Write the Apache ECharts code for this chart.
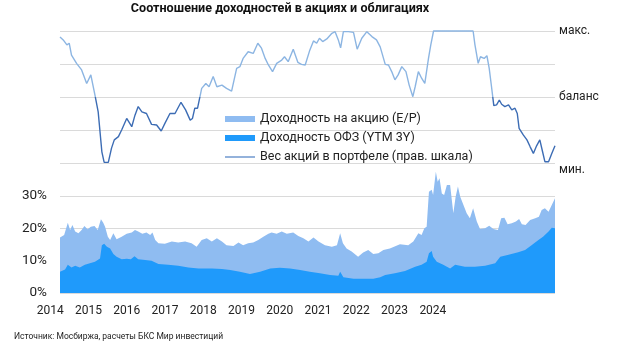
<!DOCTYPE html>
<html><head><meta charset="utf-8">
<script src="https://cdn.jsdelivr.net/npm/echarts@6/dist/echarts.min.js"></script>
<style>html,body{margin:0;padding:0;background:#fff}#c{width:620px;height:355px}</style>
</head><body><div id="c"></div>
<script>
const yearLabels = ['2014','2015','2016','2017','2018','2019','2020','2021','2022','2023','2024'];

// Stock weight in portfolio (right scale: 0 = мин., 2 = баланс, 4 = макс.)
const weightTimes = [2014.00,2014.07,2014.15,2014.20,2014.25,2014.36,2014.47,2014.58,2014.67,2014.76,2014.83,2014.91,2014.96,2015.05,2015.12,2015.18,2015.27,2015.34,2015.38,2015.45,2015.56,2015.63,2015.70,2015.78,2015.88,2015.99,2016.10,2016.20,2016.28,2016.39,2016.50,2016.63,2016.73,2016.83,2016.88,2016.93,2016.99,2017.08,2017.17,2017.24,2017.33,2017.41,2017.52,2017.62,2017.73,2017.84,2017.91,2017.98,2018.09,2018.20,2018.30,2018.38,2018.46,2018.53,2018.62,2018.71,2018.82,2018.88,2018.96,2019.07,2019.17,2019.25,2019.33,2019.43,2019.51,2019.58,2019.64,2019.71,2019.80,2019.91,2019.98,2020.05,2020.10,2020.16,2020.27,2020.38,2020.46,2020.56,2020.67,2020.78,2020.88,2020.96,2021.07,2021.14,2021.21,2021.28,2021.35,2021.43,2021.52,2021.59,2021.67,2021.72,2021.79,2021.86,2021.93,2022.01,2022.06,2022.12,2022.50,2022.98,2023.02,2023.09,2023.14,2023.22,2023.28,2023.33,2023.38,2023.43,2023.49,2023.55,2023.60,2023.67,2023.75,2023.82,2023.89,2023.94,2023.98,2024.07,2024.15,2024.22,2024.29,2024.36,2024.43,2024.49,2024.54,2024.62,2024.69,2024.76];
const weightValues = [3.82,3.73,3.58,3.63,3.27,3.02,2.82,2.41,2.67,2.06,1.55,0.34,0.02,0.02,0.45,0.70,0.80,1.00,0.97,1.35,1.10,1.45,1.71,1.55,1.50,1.17,1.15,0.97,1.20,1.50,1.50,1.84,1.61,1.30,1.35,1.66,1.66,2.26,2.41,2.31,2.62,2.31,2.36,2.26,2.18,2.87,2.92,3.17,3.37,3.32,3.63,3.48,3.17,2.97,2.77,3.02,3.12,3.22,3.07,3.45,3.05,2.99,2.97,3.42,3.70,3.63,3.78,3.68,3.76,3.93,3.98,3.73,3.49,3.98,3.98,3.96,3.45,3.78,3.98,3.83,3.73,3.52,2.99,2.97,2.77,2.52,2.67,2.92,2.77,2.36,2.01,2.31,2.77,2.57,2.41,3.17,3.58,4.00,4.00,4.00,3.58,3.02,3.22,3.17,3.25,2.87,2.31,1.74,1.76,1.91,1.78,1.71,1.76,1.61,1.66,1.50,1.05,0.85,0.70,0.49,0.29,0.52,0.70,0.34,0.04,0.04,0.29,0.52];

// Earnings yield (E/P), %
const epTimes = [2014.00,2014.09,2014.17,2014.22,2014.27,2014.33,2014.40,2014.47,2014.53,2014.60,2014.67,2014.75,2014.82,2014.89,2014.94,2014.98,2015.04,2015.09,2015.16,2015.23,2015.34,2015.45,2015.56,2015.63,2015.70,2015.79,2015.88,2015.96,2016.01,2016.07,2016.14,2016.28,2016.43,2016.57,2016.72,2016.86,2016.97,2017.08,2017.19,2017.30,2017.41,2017.52,2017.62,2017.77,2017.88,2017.98,2018.09,2018.20,2018.31,2018.42,2018.53,2018.60,2018.71,2018.82,2018.93,2019.07,2019.18,2019.29,2019.40,2019.51,2019.62,2019.76,2019.91,2020.02,2020.09,2020.15,2020.23,2020.34,2020.48,2020.59,2020.70,2020.81,2020.92,2021.03,2021.17,2021.39,2021.57,2021.68,2021.79,2021.86,2021.92,2021.97,2022.02,2022.08,2022.11,2022.17,2022.21,2022.25,2022.30,2022.35,2022.41,2022.44,2022.48,2022.55,2022.60,2022.65,2022.70,2022.77,2022.84,2022.91,2022.98,2023.06,2023.13,2023.24,2023.33,2023.42,2023.52,2023.59,2023.66,2023.73,2023.82,2023.91,2023.98,2024.04,2024.12,2024.22,2024.33,2024.41,2024.47,2024.54,2024.62,2024.69,2024.76];
const epValues = [17.2,17.9,21.7,19.5,21.0,19.0,18.5,19.5,20.7,19.7,20.5,20.7,19.5,22.8,21.7,20.5,17.4,16.4,18.5,16.6,17.4,18.3,18.7,19.5,19.0,18.3,18.7,17.9,18.7,16.4,15.4,15.2,15.9,15.6,15.9,15.4,14.3,16.4,16.9,15.9,16.9,15.9,14.8,14.5,15.6,14.8,15.4,15.6,16.4,17.4,18.3,18.7,18.3,19.0,18.3,18.7,17.6,16.9,15.9,17.2,15.9,14.8,14.3,14.8,18.5,15.4,13.8,12.8,11.2,12.5,13.3,12.1,12.3,13.3,13.8,15.1,14.8,15.9,18.5,17.9,20.0,20.5,31.3,31.9,30.3,37.5,34.4,35.5,30.8,30.3,33.4,33.2,33.4,24.7,29.8,32.9,29.8,27.2,24.7,23.1,26.2,22.1,19.8,20.0,20.8,19.8,19.5,23.1,23.3,21.3,21.6,22.1,22.9,21.3,21.0,22.6,23.1,23.6,25.7,26.2,25.1,27.2,29.3];

// OFZ yield (YTM 3Y), %
const ofzTimes = [2014.00,2014.11,2014.17,2014.25,2014.33,2014.43,2014.54,2014.65,2014.76,2014.87,2014.91,2014.96,2015.02,2015.09,2015.16,2015.23,2015.34,2015.45,2015.54,2015.62,2015.70,2015.85,2015.99,2016.14,2016.35,2016.57,2016.79,2017.01,2017.30,2017.52,2017.70,2017.91,2018.13,2018.35,2018.57,2018.78,2019.00,2019.22,2019.43,2019.65,2019.87,2020.05,2020.09,2020.16,2020.38,2020.59,2020.81,2020.96,2021.07,2021.28,2021.50,2021.72,2021.86,2021.97,2022.02,2022.08,2022.11,2022.19,2022.33,2022.48,2022.59,2022.62,2022.80,2023.02,2023.24,2023.46,2023.57,2023.75,2023.96,2024.11,2024.25,2024.40,2024.50,2024.62,2024.69,2024.76];
const ofzValues = [6.6,7.3,8.7,7.9,8.4,7.9,8.7,9.2,9.7,10.7,14.8,15.2,14.3,13.8,12.1,11.2,10.4,10.6,10.4,11.4,10.4,10.2,10.0,9.0,8.7,8.4,7.9,7.6,7.6,7.4,7.1,6.6,5.9,6.6,7.6,7.8,7.6,7.1,6.6,6.1,5.6,5.3,6.6,4.9,4.4,4.4,4.4,4.9,5.6,6.1,6.8,8.1,8.7,9.7,12.3,13.0,11.2,9.7,8.7,7.6,8.7,8.1,8.1,8.1,8.4,9.2,11.2,11.8,12.6,13.3,14.8,16.4,17.4,19.0,20.2,20.0];

const weightLevelLabels = {0: 'мин.', 2: 'баланс', 4: 'макс.'};
const seriesNames = ['Доходность на акцию (E/P)', 'Доходность ОФЗ (YTM 3Y)', 'Вес акций в портфеле (прав. шкала)'];

const zip = (xs, ys) => xs.map((x, i) => [x, ys[i]]);
const FONT = 'Roboto, "Noto Sans", sans-serif';
const C_EP = '#8fbcf1', C_OFZ = '#1f9afb', C_DARK = '#3c6cb4', C_LIGHT = '#8cb5e2', C_LEG = '#5a88c8';
const X0 = 2014, X1 = 2024.76;

const chart = echarts.init(document.getElementById('c'), null, {renderer: 'canvas'});
chart.setOption({
  animation: false,
  title: [
    {text: 'Соотношение доходностей в акциях и облигациях', left: 280, textAlign: 'center', top: 2, padding: 0,
     textStyle: {fontFamily: FONT, fontWeight: 'bold', fontSize: 12.6, color: '#111'}},
    {text: 'Источник: Мосбиржа, расчеты БКС Мир инвестиций', left: 14, top: 332, padding: 0,
     textStyle: {fontFamily: FONT, fontWeight: 'normal', fontSize: 8.5, color: '#222'}}
  ],
  legend: {
    orient: 'vertical', left: 225, top: 112, padding: 0, itemWidth: 30, itemHeight: 6, itemGap: 5,
    textStyle: {fontFamily: FONT, fontSize: 12.5, color: '#222', lineHeight: 14},
    data: [
      {name: seriesNames[0], icon: 'rect'},
      {name: seriesNames[1], icon: 'rect'},
      {name: seriesNames[2], icon: 'path://M0,0H30V1.3H0Z', itemStyle: {color: C_LEG}}
    ],
    selectedMode: false
  },
  visualMap: {
    show: false, type: 'piecewise', seriesIndex: 2, dimension: 1,
    pieces: [{gte: -1, lt: 2, color: C_DARK}, {gte: 2, lte: 5, color: C_LIGHT}]
  },
  grid: [
    {left: 60, right: 65, top: 31, height: 132},
    {left: 60, right: 65, top: 196, height: 97},
    {left: 31, width: 421, top: 298, height: 1}
  ],
  xAxis: [
    {gridIndex: 0, type: 'value', min: X0, max: X1, show: false},
    {gridIndex: 1, type: 'value', min: X0, max: X1, show: false},
    {gridIndex: 2, type: 'category', data: yearLabels, boundaryGap: true,
     axisLine: {show: false}, axisTick: {show: false},
     axisLabel: {margin: 6, fontFamily: FONT, fontSize: 12, color: '#222'}}
  ],
  yAxis: [
    {gridIndex: 0, type: 'value', min: 0, max: 4, interval: 1, position: 'right',
     axisLine: {show: false}, axisTick: {show: false},
     splitLine: {lineStyle: {color: '#dadada', width: 1}},
     axisLabel: {margin: 4, fontFamily: FONT, fontSize: 12, color: '#222',
       formatter: v => v === 0 ? '{lo|мин.}' : (weightLevelLabels[v] || ''),
       rich: {lo: {padding: [14, 0, 0, 0], fontFamily: FONT, fontSize: 12, color: '#222'}}}},
    {gridIndex: 1, type: 'value', min: 0, max: 30, interval: 10,
     axisLine: {show: false}, axisTick: {show: false},
     splitLine: {lineStyle: {color: '#dadada', width: 1}},
     axisLabel: {margin: 13, fontFamily: FONT, fontSize: 13.5, color: '#222', formatter: '{value}%'}},
    {gridIndex: 2, type: 'value', show: false}
  ],
  series: [
    {name: seriesNames[0], type: 'line', xAxisIndex: 1, yAxisIndex: 1, data: zip(epTimes, epValues),
     symbol: 'none', clip: false, lineStyle: {width: 0, color: C_EP}, itemStyle: {color: C_EP},
     areaStyle: {color: C_EP, opacity: 1}},
    {name: seriesNames[1], type: 'line', xAxisIndex: 1, yAxisIndex: 1, data: zip(ofzTimes, ofzValues),
     symbol: 'none', lineStyle: {width: 0, color: C_OFZ}, itemStyle: {color: C_OFZ},
     areaStyle: {color: C_OFZ, opacity: 1}},
    {name: seriesNames[2], type: 'line', xAxisIndex: 0, yAxisIndex: 0, data: zip(weightTimes, weightValues),
     symbol: 'none', clip: false, lineStyle: {width: 1.4}}
  ]
});
</script></body></html>
